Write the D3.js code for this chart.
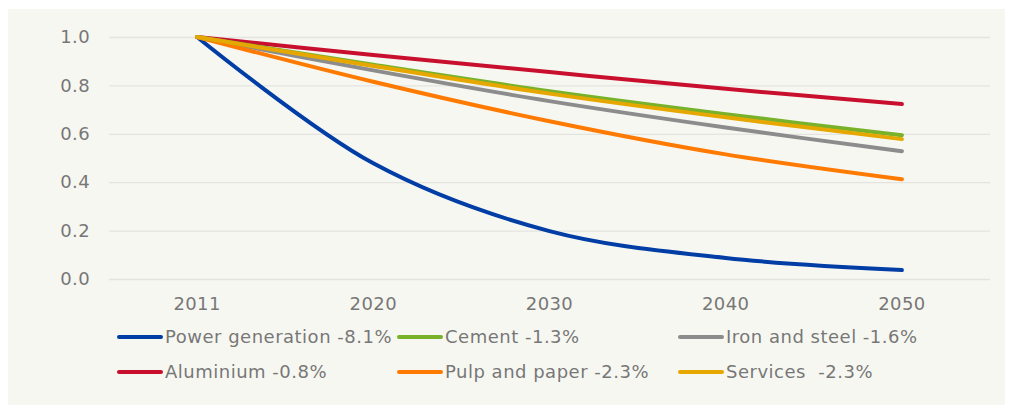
<!DOCTYPE html>
<html><head><meta charset="utf-8">
<script src="https://cdn.jsdelivr.net/npm/d3@7"></script>
<style>body{margin:0;background:#fff;} svg{display:block;} text{font-family:"DejaVu Sans",Verdana,sans-serif;}</style>
</head><body>
<svg id="c" width="1015" height="412"></svg>
<script>
const years = ["2011","2020","2030","2040","2050"];
const yTicks = [0,0.2,0.4,0.6,0.8,1.0];
const seriesNames = ["Power generation -8.1%","Cement -1.3%","Iron and steel -1.6%","Aluminium -0.8%","Pulp and paper -2.3%","Services  -2.3%"];
const seriesColors = ["#003da5","#78b22a","#8c8c8c","#c8102e","#ff7a00","#e6a800"];
const power = [1.0,0.478,0.198,0.087,0.037];
const cement = [1.0,0.885,0.776,0.681,0.594];
const ironSteel = [1.0,0.862,0.735,0.626,0.528];
const aluminium = [1.0,0.926,0.855,0.786,0.723];
const pulp = [1.0,0.815,0.652,0.515,0.412];
const services = [1.0,0.88,0.766,0.668,0.578];
const seriesValues = [power,cement,ironSteel,aluminium,pulp,services];
const drawOrder = [0,2,4,3,1,5];

const FONT = '"DejaVu Sans",Verdana,sans-serif';
const svg = d3.select("#c");
svg.append("rect").attr("x",8).attr("y",9).attr("width",997).attr("height",396).attr("fill","#f7f7f2");

const x = d3.scaleBand().domain(years).range([109,990]);
const y = d3.scaleLinear().domain([0,1]).range([279,37]);

const yAxis = svg.append("g").attr("transform","translate(109,0)")
  .call(d3.axisLeft(y).tickValues(yTicks).tickFormat(d3.format(".1f")).tickSize(-881).tickPadding(19));
yAxis.attr("font-family",FONT).attr("font-size",18);
yAxis.select(".domain").remove();
yAxis.selectAll("line").attr("stroke","#e3e3e0").attr("stroke-width",1.3);
yAxis.selectAll("text").attr("fill","#777").attr("letter-spacing","0.4px");

const xAxis = svg.append("g").attr("transform","translate(0,279)")
  .call(d3.axisBottom(x).tickSize(0).tickPadding(18));
xAxis.attr("font-family",FONT).attr("font-size",18);
xAxis.select(".domain").remove();
xAxis.selectAll("text").attr("fill","#777").attr("letter-spacing","0.4px");

const line = d3.line()
  .x((d,i)=>x(years[i])+x.bandwidth()/2)
  .y(d=>y(d))
  .curve(d3.curveCatmullRom.alpha(0.5));

drawOrder.forEach(i=>{
  svg.append("path").datum(seriesValues[i]).attr("d",line)
    .attr("fill","none").attr("stroke",seriesColors[i]).attr("stroke-width",4)
    .attr("stroke-linecap","round").attr("stroke-linejoin","round");
});

const legX = [118,398,679], legY = [337,372];
seriesNames.forEach((n,i)=>{
  const g = svg.append("g").attr("transform",`translate(${legX[i%3]},${legY[Math.floor(i/3)]})`);
  g.append("line").attr("x1",1).attr("x2",43).attr("stroke",seriesColors[i]).attr("stroke-width",4).attr("stroke-linecap","round");
  g.append("text").attr("x",47).attr("dy","0.36em").attr("fill","#777").attr("font-size","18px")
    .attr("letter-spacing","0.5px").style("white-space","pre").text(n);
});
</script>
</body></html>
